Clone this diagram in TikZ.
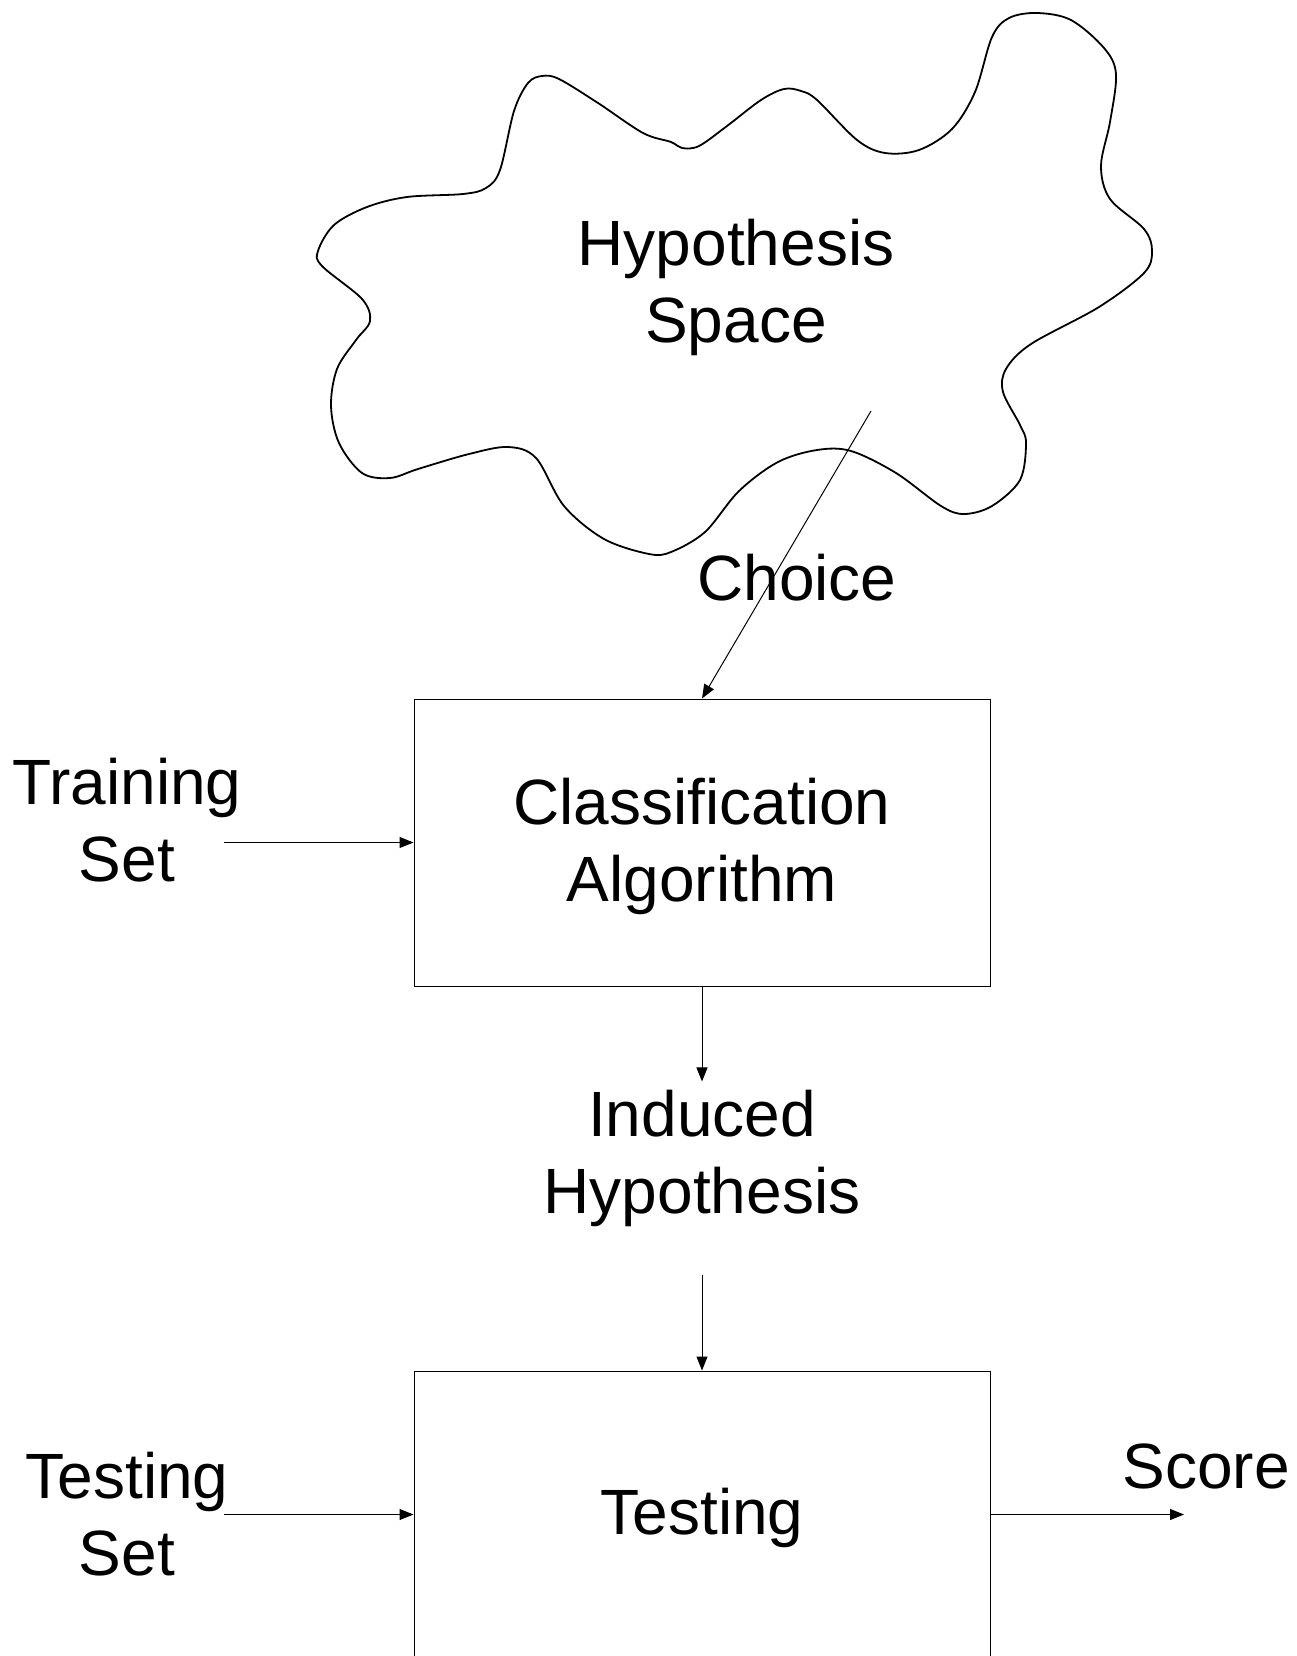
\documentclass[tikz,border=0pt]{standalone}
\usepackage{fontspec}
\setmainfont{Liberation Sans}
\usetikzlibrary{arrows.meta}

\begin{document}
\begin{tikzpicture}[x=1pt, y=-1pt,
  txt/.style={align=center, font=\fontsize{64}{77}\selectfont, inner sep=8pt},
  algobox/.style={draw, line width=1pt, minimum width=576pt, minimum height=287pt},
  arr/.style={line width=1pt, -{Triangle[length=14pt,width=11pt]}}]
\def\W{1297}
\def\H{1656}
\def\xc{702}
\def\xl{127}
  \useasboundingbox (0,0) rectangle (\W,\H);
  \clip (0,0) rectangle (\W,\H);

  \draw[line width=1.8pt] plot[smooth cycle, tension=0.55] coordinates {
    (318,251) (334,225) (367,207) (407,197) (463,194) (486,188) (500,170)
    (514,111) (528,83) (542,76) (559,79) (598,103) (643,133) (671,142)
    (682,148) (699,146) (727,126) (761,100) (784,89) (801,91) (817,100)
    (857,140) (885,153) (919,150) (952,129) (975,92) (992,37) (1009,18)
    (1037,13) (1071,20) (1104,48) (1116,74) (1110,122) (1101,166) (1110,199)
    (1144,229) (1152,251) (1144,273) (1099,307) (1031,344) (1006,369)
    (1003,392) (1020,425) (1026,443) (1020,480) (992,506) (964,514) (941,506)
    (896,473) (851,451) (817,450) (778,462) (739,491) (705,532) (671,552)
    (649,554) (604,539) (564,506) (536,458) (508,447) (469,454) (418,469)
    (390,478) (362,473) (339,443) (331,406) (337,369) (356,340) (370,321)
    (362,299) (322,266)};
  \node[txt] (hyp) at (736,287) {Hypothesis\\Space};
  \node[txt] (choice) at (797,578) {Choice};

  \node[algobox] (cls) at (\xc,842.5) {};
  \node[txt, yshift=-4pt] (clstxt) at (cls) {Classification\\Algorithm};
  \node[txt] (train) at (\xl,820) {Training\\Set};
  \node[txt] (induced) at (\xc,1158) {Induced\\Hypothesis};
  \node[algobox] (test) at (\xc,1514.5) {};
  \node[txt, yshift=-3pt] (testtxt) at (test) {Testing};
  \node[txt] (testset) at (\xl,1514) {Testing\\Set};
  \node[txt] (score) at (1206,1466) {Score};

  \coordinate (pick) at (871,411);
  \coordinate (trainout) at (224,842.5);
  \coordinate (testout) at (224,1514.5);
  \coordinate (scoreend) at (1184,1514.5);

  \draw[arr] (pick) -- (cls.north);
  \draw[arr] (trainout) -- (cls.west);
  \draw[arr] (cls.south) -- (induced.north);
  \draw[arr] ([yshift=-40pt]induced.south) -- (test.north);
  \draw[arr] (testout) -- (test.west);
  \draw[arr] (test.east) -- (scoreend);
\end{tikzpicture}
\end{document}
